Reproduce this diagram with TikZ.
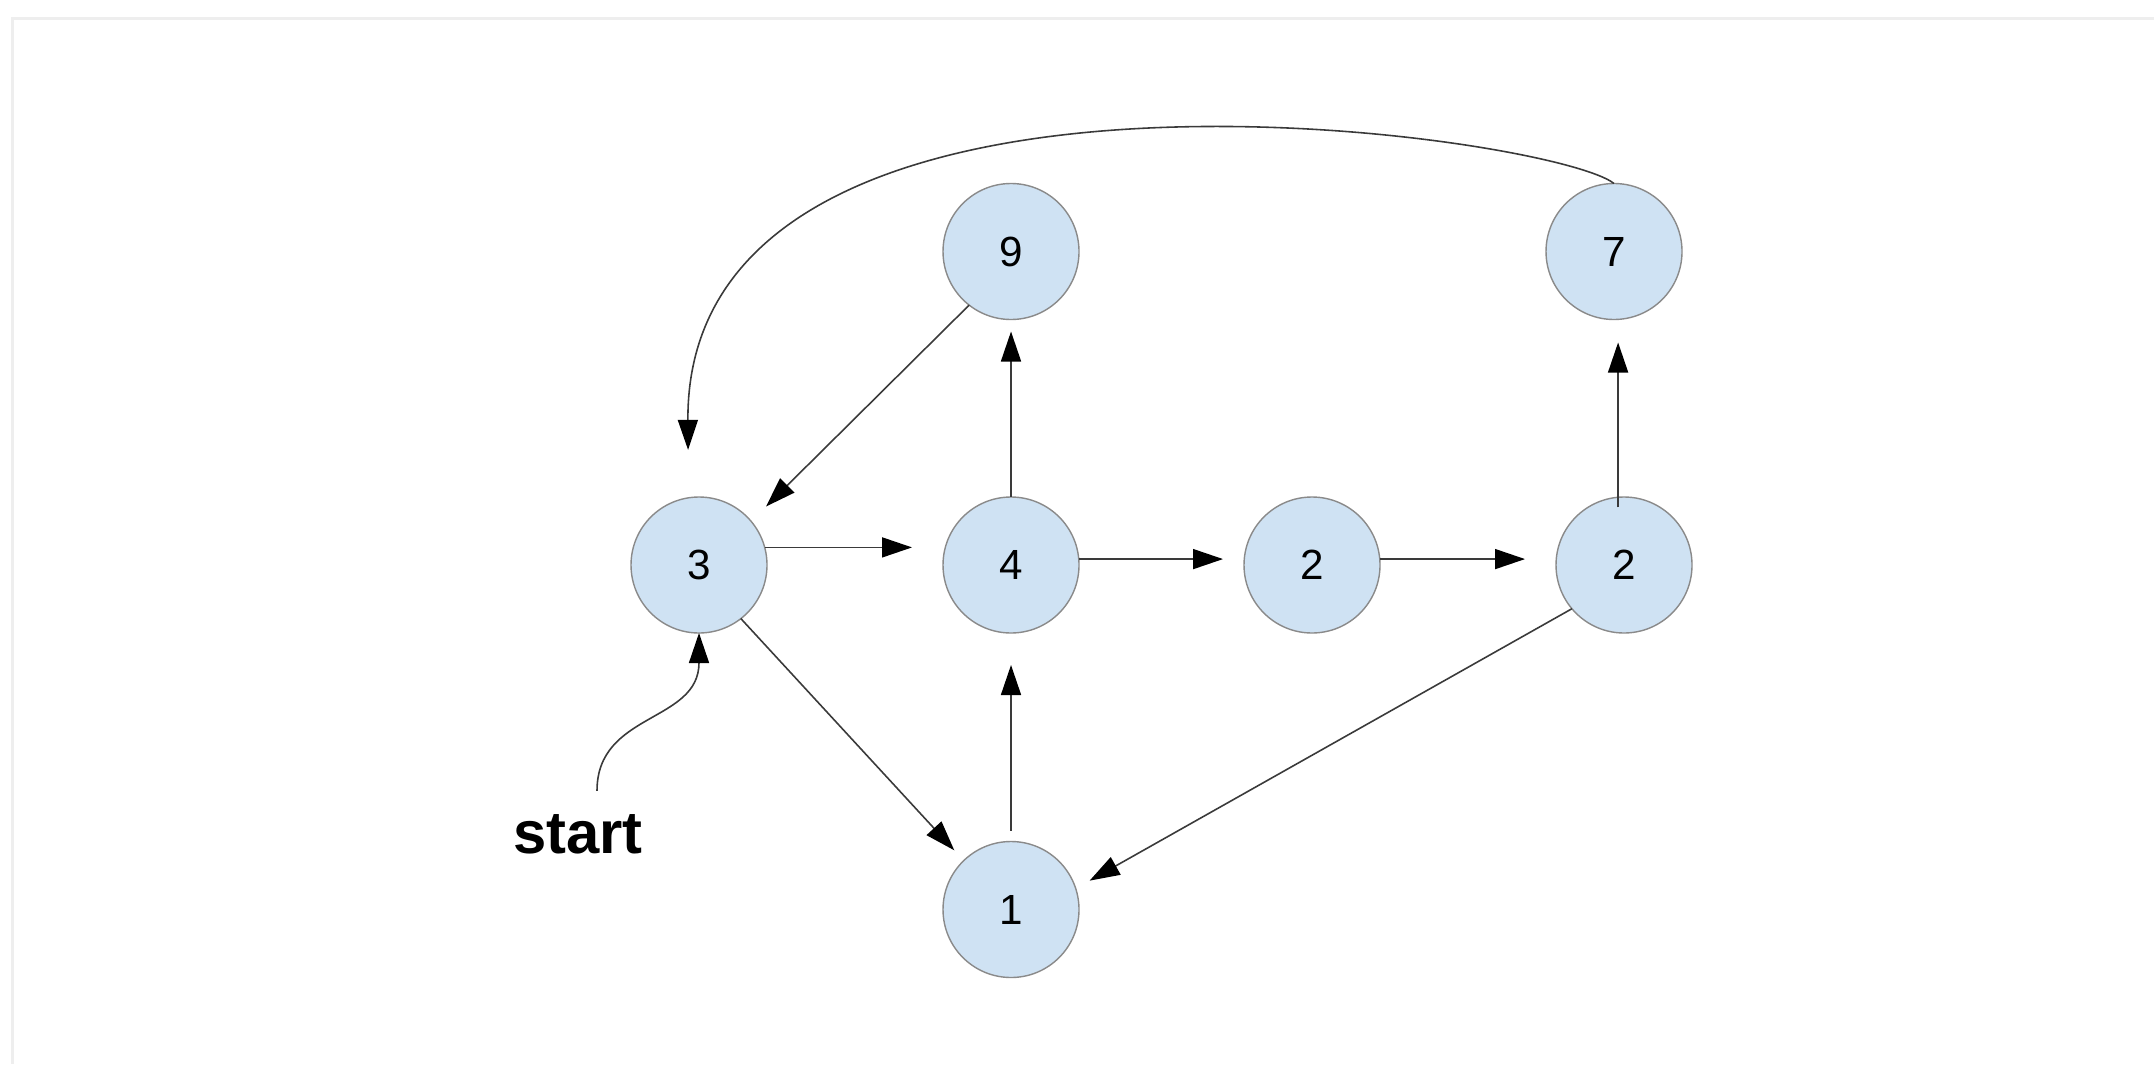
\documentclass[tikz,border=0pt]{standalone}
\usepackage{fontspec}
\setmainfont{Liberation Sans}
\usetikzlibrary{arrows.meta, positioning}

\definecolor{nodefill}{HTML}{CFE2F3}
\definecolor{nodeline}{HTML}{8A8A8A}
\definecolor{edgeline}{HTML}{3A3A3A}
\definecolor{framegray}{HTML}{EEEEEE}

\begin{document}
\begin{tikzpicture}[
    node distance=1.76cm,
    vertex/.style={circle, draw=nodeline, line width=0.4pt, fill=nodefill, minimum size=1.36cm, inner sep=0pt, outer sep=0pt, font=\fontsize{12}{14}\selectfont},
    arrow/.style={-{Triangle[length=3mm, width=2mm, color=black]}, draw=edgeline, line width=0.45pt}
]
\useasboundingbox (0,0) rectangle (21.54,10.64);
\fill[white] (0,0) rectangle (21.54,10.64);
% page frame
\draw[framegray, line width=0.9pt] (0.125,0) -- (0.125,10.455) -- (21.54,10.455);

\node[vertex] at (10.11,4.99) (n4) {4};
\node[vertex, left=of n4] (n3) {3};
\node[vertex, right=1.65cm of n4] (n2a) {2};
\node[vertex, right=of n2a] (n2b) {2};
\node[vertex, above=1.775cm of n4] (n9) {9};
\node[vertex, below=2.085cm of n4] (n1) {1};
\node[vertex, above=1.775cm of n2b, xshift=-1mm] (n7) {7};
\node[font=\fontsize{17}{20}\selectfont\bfseries] at (5.78,2.30) (start) {start};

\draw[arrow, shorten >=3.1mm] (n3.15) -- (n3.15 -| n4.west);
\draw[arrow, shorten >=2.1mm] (n4.5) -- (n4.5 -| n2a.west);
\draw[arrow, shorten >=3.1mm] (n2a.5) -- (n2a.5 -| n2b.west);
\draw[arrow, shorten >=1.2mm] (n4.north) -- (n9.south);
\draw[arrow, shorten <=1.1mm, shorten >=3.2mm] (n1.north) -- (n4.south);
\draw[arrow, shorten <=-1mm, shorten >=2.3mm] (n2b.95) -- (n2b.95 |- n7.south);
\draw[arrow, shorten >=2.1mm] (n9.232) -- (n3.40);
\draw[arrow, shorten >=1.4mm] (n3.308) -- (n1.134);
\draw[arrow, shorten >=1.6mm] (n2b.220) -- (n1.18);
\draw[arrow, shorten >=4.8mm] (n7.north) .. controls +(-0.63,0.5) and +(-0.03,4.88) .. (n3.99);
\draw[arrow, shorten <=1.1mm] ([xshift=1.9mm]start.north) .. controls +(0,0.9) and +(0,-0.9) .. (n3.south);
\end{tikzpicture}
\end{document}
